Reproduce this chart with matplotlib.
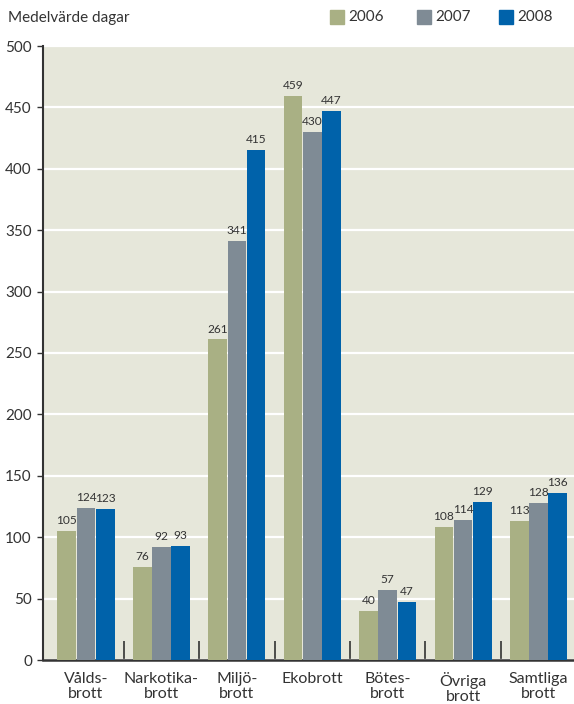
import matplotlib

matplotlib.use("Agg")

import matplotlib.pyplot as plt
import numpy as np


CATEGORIES = [
    "Vålds-\nbrott",
    "Narkotika-\nbrott",
    "Miljö-\nbrott",
    "Ekobrott",
    "Bötes-\nbrott",
    "Övriga\nbrott",
    "Samtliga\nbrott",
]

YEARS = ["2006", "2007", "2008"]

VALUES_2006 = [105, 76, 261, 459, 40, 108, 113]
VALUES_2007 = [124, 92, 341, 430, 57, 114, 128]
VALUES_2008 = [123, 93, 415, 447, 47, 129, 136]

Y_TICKS = [0, 50, 100, 150, 200, 250, 300, 350, 400, 450, 500]

COLORS = ["#a9b084", "#7f8b95", "#0062aa"]
BACKGROUND = "#e6e7da"
TEXT_COLOR = "#333333"

plt.rcParams["font.family"] = ["Lato", "DejaVu Sans"]


def main():

    fig = plt.figure(figsize=(5.74, 7.04), dpi=100)
    ax = fig.add_axes([43 / 574, 44 / 704, 1 - 43 / 574, 614 / 704])

    x = np.arange(len(CATEGORIES))
    width = 0.255
    series = [VALUES_2006, VALUES_2007, VALUES_2008]

    for i, (values, color) in enumerate(zip(series, COLORS)):
        pos = x + (i - 1) * width
        ax.bar(pos, values, width=width * 0.97, color=color, zorder=3)
        for px, v in zip(pos, values):
            ax.text(px, v + 4, str(v), ha="center", va="bottom",
                    fontsize=8.6, color=TEXT_COLOR, zorder=4)

    ax.set_facecolor(BACKGROUND)
    ax.set_xlim(-0.57, 6.47)
    ax.set_ylim(0, 500)

    ax.set_yticks(Y_TICKS)
    ax.set_yticklabels([str(t) for t in Y_TICKS], fontsize=11, color=TEXT_COLOR)
    ax.yaxis.grid(True, color="white", linewidth=1.6, zorder=1)
    ax.tick_params(axis="y", direction="out", length=4, width=1,
                   color=TEXT_COLOR, pad=4)

    # boundary ticks between groups, pointing up
    ax.set_xticks(x[:-1] + 0.5)
    ax.set_xticklabels([])
    ax.tick_params(axis="x", direction="in", length=14, width=1.2,
                   color=TEXT_COLOR)
    for xi, label in zip(x, CATEGORIES):
        ax.text(xi, -10, label, ha="center", va="top", fontsize=11.5,
                color=TEXT_COLOR, linespacing=1.05, clip_on=False)

    for side in ["top", "right"]:
        ax.spines[side].set_visible(False)
    ax.spines["left"].set_color(TEXT_COLOR)
    ax.spines["left"].set_linewidth(1.5)
    ax.spines["bottom"].set_color(TEXT_COLOR)
    ax.spines["bottom"].set_linewidth(1.8)

    fig.text(8 / 574, 1 - 18 / 704, "Medelvärde dagar", fontsize=11,
             color=TEXT_COLOR, va="center", ha="left")

    legend_x = [330, 417, 499]
    for lx, year, color in zip(legend_x, YEARS, COLORS):
        fig.patches.append(plt.Rectangle((lx / 574, 1 - 24 / 704), 14 / 574, 14 / 704,
                                         transform=fig.transFigure,
                                         color=color, figure=fig))
        fig.text((lx + 18) / 574, 1 - 17 / 704, year, fontsize=11,
                 color=TEXT_COLOR, va="center", ha="left")

    fig.savefig("out.png", dpi=100, facecolor="white")
    plt.close(fig)


if __name__ == "__main__":
    main()
